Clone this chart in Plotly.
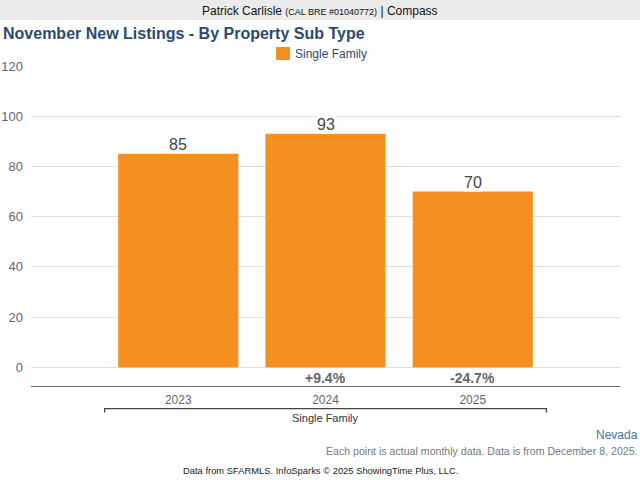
import plotly.graph_objects as go

years = ["2023", "2024", "2025"]
values = [85, 93, 70]
changes = ["", "+9.4%", "-24.7%"]
series_name = "Single Family"

FONT = "Arial, Liberation Sans, sans-serif"
BAR = "#f39020"
NAVY = "#2b4a6e"

L, R, T, B = 31, 620, 66, 386


def px(xp):
    return (xp - L) / (R - L)


def py(yp):
    return (B - yp) / (B - T)


fig = go.Figure()
fig.add_trace(go.Bar(
    x=list(range(len(years))), y=values, name=series_name,
    marker=dict(color=BAR, line=dict(width=0)), width=0.816,
    showlegend=False, hoverinfo="skip",
))

annotations = []
for i, (v, c) in enumerate(zip(values, changes)):
    annotations.append(dict(x=i, y=v, xref="x", yref="y", text=str(v), showarrow=False,
                            yanchor="bottom", yshift=0, bgcolor="white", borderpad=0,
                            font=dict(family=FONT, size=16, color="#444444")))
    if c:
        annotations.append(dict(x=i, y=-4.3, xref="x", yref="y", text="<b>" + c + "</b>",
                                showarrow=False, yanchor="middle",
                                font=dict(family=FONT, size=14, color="#666666")))

annotations.append(dict(x=1, y=py(417.5), xref="x", yref="paper", text=series_name,
                        showarrow=False, yanchor="middle",
                        font=dict(family=FONT, size=11, color="#333333")))
annotations.append(dict(x=px(320), y=py(11), xref="paper", yref="paper",
                        text="Patrick Carlisle <span style='font-size:9px'>(CAL BRE #01040772)</span> | Compass",
                        showarrow=False, yanchor="middle",
                        font=dict(family=FONT, size=12, color="#111111")))
annotations.append(dict(x=px(1), y=py(34), xref="paper", yref="paper",
                        text="<b>November New Listings - By Property Sub Type</b>",
                        showarrow=False, xanchor="left", yanchor="middle",
                        font=dict(family=FONT, size=16, color=NAVY)))
annotations.append(dict(x=px(293), y=py(54), xref="paper", yref="paper",
                        text=series_name, showarrow=False, xanchor="left", yanchor="middle",
                        font=dict(family=FONT, size=12, color=NAVY)))
annotations.append(dict(x=px(640), y=py(435), xref="paper", yref="paper",
                        text="Nevada", showarrow=False, xanchor="right", yanchor="middle",
                        font=dict(family=FONT, size=12, color="#4a72a0")))
annotations.append(dict(x=px(640), y=py(451), xref="paper", yref="paper",
                        text="Each point is actual monthly data. Data is from December 8, 2025.",
                        showarrow=False, xanchor="right", yanchor="middle",
                        font=dict(family=FONT, size=10.6, color="#777777")))
annotations.append(dict(x=px(320), y=py(470), xref="paper", yref="paper",
                        text="Data from SFARMLS. InfoSparks © 2025 ShowingTime Plus, LLC.",
                        showarrow=False, xanchor="center", yanchor="middle",
                        font=dict(family=FONT, size=9.4, color="#222222")))

shapes = [
    dict(type="rect", xref="paper", yref="paper", x0=px(0), x1=px(640),
         y0=py(20), y1=py(0), fillcolor="#ebebeb", line=dict(width=0), layer="below"),
    dict(type="rect", xref="paper", yref="paper", x0=px(276), x1=px(290),
         y0=py(60), y1=py(47), fillcolor=BAR, line=dict(width=0)),
    dict(type="path", xref="x", yref="paper",
         path=f"M -0.5,{py(412.5)} L -0.5,{py(408.7)} L 2.5,{py(408.7)} L 2.5,{py(412.5)}",
         line=dict(color="#444444", width=1.2)),
]

fig.update_layout(
    width=640, height=480,
    margin=dict(l=L, r=640 - R, t=T, b=480 - B, pad=0),
    paper_bgcolor="white", plot_bgcolor="white",
    font=dict(family=FONT),
    annotations=annotations,
    shapes=shapes,
    xaxis=dict(range=[-1, 3], tickvals=list(range(len(years))), ticktext=years,
               showgrid=False, zeroline=False, showline=True, linecolor="#6b6b6b", linewidth=1.2,
               ticks="", automargin=False, ticklabelstandoff=2,
               tickfont=dict(family=FONT, size=12, color="#666666"), fixedrange=True),
    yaxis=dict(range=[-7.46, 120], tickvals=[0, 20, 40, 60, 80, 100, 120],
               showgrid=True, gridcolor="#dddddd", gridwidth=1, zeroline=False, showline=False,
               ticks="", ticklabelstandoff=7, automargin=False,
               tickfont=dict(family=FONT, size=13, color="#666666"), fixedrange=True),
)

fig.write_html("out.html", post_script="document.body.style.margin='0px';",
               config={"displayModeBar": False})
